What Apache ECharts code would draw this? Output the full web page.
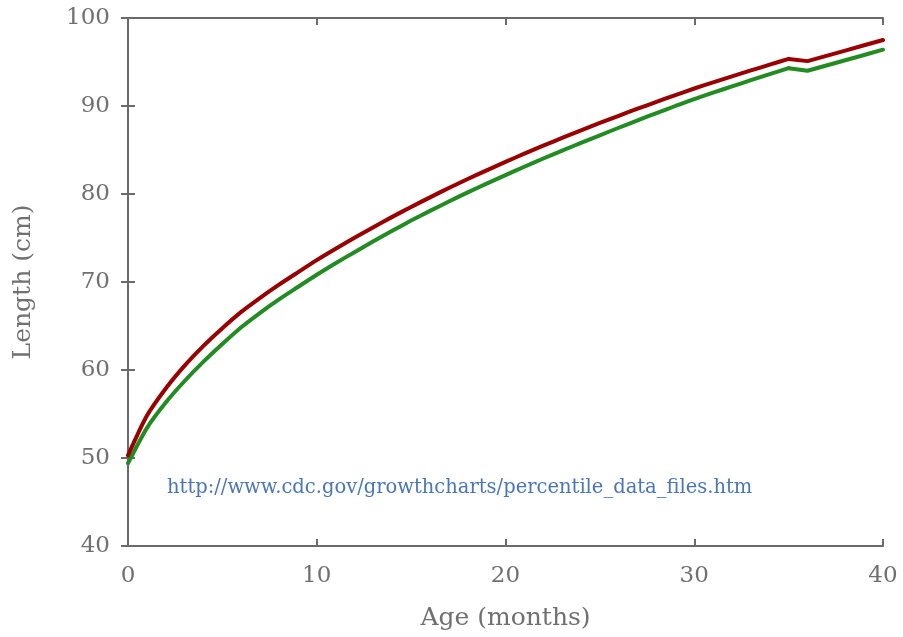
<!DOCTYPE html>
<html>
<head>
<meta charset="utf-8">
<title>Length by age</title>
<script src="https://cdn.jsdelivr.net/npm/echarts@6/dist/echarts.min.js"></script>
<style>
  html, body { margin: 0; padding: 0; background: #ffffff; }
  #chart { width: 903px; height: 637px; }
</style>
</head>
<body>
<div id="chart"></div>
<script>
// Median length (cm) by age (months)
const ages = [0, 1, 2, 3, 4, 5, 6, 7, 8, 9, 10, 11, 12, 13, 14, 15, 16, 17, 18, 19, 20,
  21, 22, 23, 24, 25, 26, 27, 28, 29, 30, 31, 32, 33, 34, 35, 36, 37, 38, 39, 40];
const boys = [50.3, 54.8, 57.9, 60.5, 62.75, 64.75, 66.6, 68.2, 69.7, 71.1, 72.48, 73.77,
  75.02, 76.23, 77.4, 78.53, 79.62, 80.68, 81.7, 82.69, 83.65, 84.58, 85.49, 86.37, 87.23,
  88.07, 88.89, 89.69, 90.47, 91.24, 91.99, 92.69, 93.37, 94.04, 94.7, 95.35, 95.1, 95.7,
  96.3, 96.9, 97.5];
const girls = [49.4, 53.4, 56.3, 58.75, 60.95, 62.95, 64.85, 66.5, 68.02, 69.43, 70.83, 72.14,
  73.39, 74.63, 75.82, 76.98, 78.08, 79.15, 80.18, 81.18, 82.15, 83.1, 84.03, 84.93, 85.81,
  86.67, 87.53, 88.37, 89.19, 90.0, 90.79, 91.52, 92.23, 92.93, 93.62, 94.3, 94.0, 94.6,
  95.2, 95.8, 96.4];
// The infant table ends at 35 months; the later points come from a second table
const infantLastIndex = 35;
const xTicks = { min: 0, max: 40, interval: 10 };
const yTicks = { min: 40, max: 100, interval: 10 };
const sourceNote = 'http://www.cdc.gov/growthcharts/percentile_data_files.htm';

const FONT = '"DejaVu Serif", "Liberation Serif", serif';
const AXIS_GREY = '#6b6b6b';
const TEXT_GREY = '#707070';
const BOYS_RED = '#990000';
const GIRLS_GREEN = '#228b22';

const pairs = (xs, ys, from, to) => xs.slice(from, to).map((x, i) => [x, ys[from + i]]);

const frameAxis = {
  axisLine: { show: true, lineStyle: { color: AXIS_GREY, width: 2 } },
  axisTick: { show: true, inside: true, length: 7, lineStyle: { color: AXIS_GREY, width: 2 } },
  splitLine: { show: false },
  minorTick: { show: false }
};

// one curve = a smoothed infant part plus a straight tail joined at the last infant point
function curve(name, values, color, z) {
  const common = {
    name, type: 'line', xAxisIndex: 0, yAxisIndex: 0, showSymbol: false,
    lineStyle: { color, width: 4, cap: 'round', join: 'round' }, z
  };
  return [
    Object.assign({}, common, {
      data: pairs(ages, values, 0, infantLastIndex + 1),
      smooth: 0.25
    }),
    Object.assign({}, common, {
      data: pairs(ages, values, infantLastIndex, ages.length),
      smooth: false
    })
  ];
}

const chart = echarts.init(document.getElementById('chart'), null, { renderer: 'canvas' });
chart.setOption({
  animation: false,
  backgroundColor: '#ffffff',
  grid: { left: 128, right: 20, top: 18, bottom: 91, containLabel: false },
  xAxis: [
    Object.assign({
      type: 'value', position: 'bottom',
      min: xTicks.min, max: xTicks.max, interval: xTicks.interval,
      name: 'Age (months)', nameLocation: 'middle', nameGap: 60,
      nameTextStyle: { fontFamily: FONT, fontSize: 25, color: TEXT_GREY },
      axisLabel: { fontFamily: FONT, fontSize: 23, color: TEXT_GREY, margin: 19 }
    }, frameAxis),
    Object.assign({
      type: 'value', position: 'top',
      min: xTicks.min, max: xTicks.max, interval: xTicks.interval,
      axisLabel: { show: false }
    }, frameAxis)
  ],
  yAxis: [
    Object.assign({
      type: 'value', position: 'left',
      min: yTicks.min, max: yTicks.max, interval: yTicks.interval,
      name: 'Length (cm)', nameLocation: 'middle', nameGap: 92,
      nameTextStyle: { fontFamily: FONT, fontSize: 25, color: TEXT_GREY },
      axisLabel: { fontFamily: FONT, fontSize: 23, color: TEXT_GREY, margin: 18 }
    }, frameAxis),
    Object.assign({
      type: 'value', position: 'right',
      min: yTicks.min, max: yTicks.max, interval: yTicks.interval,
      axisLabel: { show: false }
    }, frameAxis)
  ],
  series: [].concat(
    curve('Boys', boys, BOYS_RED, 3),
    curve('Girls', girls, GIRLS_GREEN, 2)
  ),
  graphic: [
    {
      type: 'text', left: 167, top: 478,
      style: { text: sourceNote, fontFamily: FONT, fontSize: 19.5, fill: '#4a76b8' }
    }
  ]
});
</script>
</body>
</html>
